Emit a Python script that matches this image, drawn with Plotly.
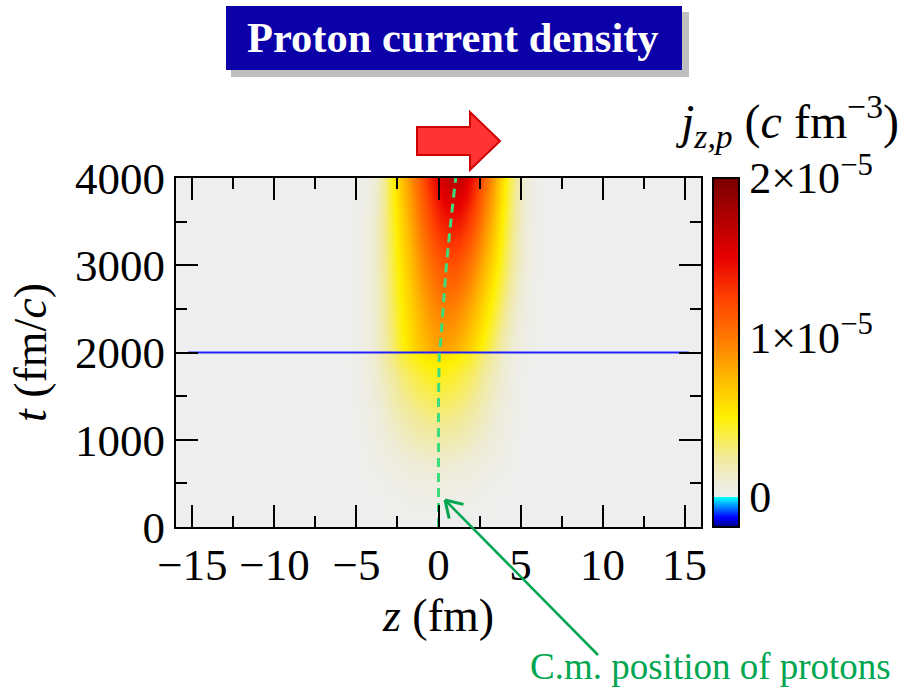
import numpy as np
import plotly.graph_objects as go

# ---------------- data ----------------
# z positions of the grid columns (fm)
z_fm = [-5.25, -4.75, -4.25, -3.75, -3.25, -2.75, -2.25, -1.75, -1.25, -0.75, -0.25,
        0.25, 0.75, 1.25, 1.75, 2.25, 2.75, 3.25, 3.75, 4.25, 4.75, 5.25, 5.75, 6.25, 6.75]
# times of the grid rows (fm/c)
t_fmc = [0, 250, 500, 750, 1000, 1250, 1500, 1750, 1995, 2005, 2500, 3000, 3500, 4000]
# proton current density j_{z,p} in units of 1e-5 c fm^-3 (one list per time row)
j_t0000 = [0] * 25
j_t0250 = [0, 0, 0, 0, 0.01, 0.01, 0.01, 0.02, 0.02, 0.02, 0.02, 0.02, 0.02, 0.02, 0.02, 0.01, 0.01, 0.01, 0, 0, 0, 0, 0, 0, 0]
j_t0500 = [0, 0, 0.01, 0.01, 0.02, 0.03, 0.04, 0.05, 0.05, 0.06, 0.06, 0.06, 0.06, 0.05, 0.05, 0.04, 0.03, 0.02, 0.01, 0.01, 0, 0, 0, 0, 0]
j_t0750 = [0, 0.01, 0.02, 0.03, 0.05, 0.06, 0.08, 0.09, 0.10, 0.11, 0.12, 0.12, 0.11, 0.10, 0.09, 0.08, 0.06, 0.05, 0.03, 0.02, 0.01, 0, 0, 0, 0]
j_t1000 = [0, 0.01, 0.03, 0.05, 0.08, 0.11, 0.13, 0.16, 0.18, 0.19, 0.20, 0.20, 0.19, 0.18, 0.16, 0.13, 0.11, 0.08, 0.05, 0.03, 0.01, 0, 0, 0, 0]
j_t1250 = [0.01, 0.02, 0.04, 0.07, 0.11, 0.15, 0.19, 0.22, 0.25, 0.27, 0.28, 0.28, 0.27, 0.25, 0.22, 0.19, 0.15, 0.11, 0.07, 0.04, 0.02, 0.01, 0, 0, 0]
j_t1500 = [0.01, 0.03, 0.06, 0.10, 0.14, 0.20, 0.25, 0.29, 0.33, 0.35, 0.37, 0.37, 0.35, 0.33, 0.29, 0.25, 0.20, 0.14, 0.10, 0.06, 0.03, 0.01, 0, 0, 0]
j_t1750 = [0.01, 0.03, 0.07, 0.12, 0.18, 0.24, 0.31, 0.36, 0.40, 0.44, 0.46, 0.46, 0.44, 0.40, 0.36, 0.31, 0.24, 0.18, 0.12, 0.07, 0.03, 0.01, 0, 0, 0]
j_t1995 = [0.02, 0.04, 0.09, 0.15, 0.23, 0.31, 0.39, 0.46, 0.51, 0.55, 0.57, 0.57, 0.55, 0.51, 0.46, 0.39, 0.31, 0.23, 0.15, 0.09, 0.04, 0.02, 0.01, 0, 0]
j_t2005 = [0.01, 0.03, 0.07, 0.13, 0.21, 0.32, 0.45, 0.56, 0.66, 0.74, 0.80, 0.82, 0.80, 0.74, 0.66, 0.56, 0.45, 0.32, 0.21, 0.13, 0.07, 0.03, 0.01, 0, 0]
j_t2500 = [0.01, 0.03, 0.07, 0.14, 0.24, 0.36, 0.50, 0.63, 0.75, 0.85, 0.93, 0.97, 0.97, 0.92, 0.84, 0.73, 0.60, 0.46, 0.33, 0.21, 0.12, 0.06, 0.02, 0.01, 0]
j_t3000 = [0.01, 0.03, 0.07, 0.15, 0.26, 0.40, 0.56, 0.71, 0.86, 0.98, 1.08, 1.15, 1.18, 1.14, 1.05, 0.93, 0.78, 0.62, 0.45, 0.30, 0.18, 0.09, 0.03, 0.01, 0]
j_t3500 = [0.01, 0.03, 0.07, 0.15, 0.28, 0.44, 0.62, 0.80, 0.97, 1.13, 1.27, 1.37, 1.42, 1.40, 1.30, 1.15, 0.96, 0.76, 0.55, 0.36, 0.21, 0.10, 0.04, 0.01, 0]
j_t4000 = [0.01, 0.02, 0.05, 0.13, 0.28, 0.50, 0.70, 0.90, 1.08, 1.27, 1.45, 1.60, 1.70, 1.68, 1.55, 1.36, 1.13, 0.90, 0.65, 0.42, 0.24, 0.11, 0.04, 0.01, 0]

# centre-of-mass position of protons
cm_t = [0, 500, 1000, 1500, 2000, 2100, 2500, 3000, 3500, 4000]
cm_z = [0.0, 0.0, 0.0, 0.0, 0.05, 0.12, 0.28, 0.48, 0.75, 1.05]

# horizontal marker line
mark_z = [-15.25, 15.25]
mark_t = [2000, 2000]

# colour-bar ticks (labelled) and dash marks
cb_vals = [0, 1e-5, 2e-5]
cb_text = ["0", "1×10<sup>−5</sup>", "2×10<sup>−5</sup>"]
cb_marks = [0, 0.5e-5, 1e-5, 1.5e-5]

# ---------------- figure ----------------
FONT = "Liberation Serif, Times New Roman, serif"
L, R, T, B = 176, 701, 178, 527
W, H = R - L, B - T


def px(x):
    return (x - L) / W


def py(y):
    return (B - y) / H


j_rows = [j_t0000, j_t0250, j_t0500, j_t0750, j_t1000, j_t1250, j_t1500, j_t1750,
          j_t1995, j_t2005, j_t2500, j_t3000, j_t3500, j_t4000]
zmat = np.array(j_rows) * 1e-5

zmin, zmax = -1.9e-6, 2e-5


def nrm(v):
    return (v * 1e-5 - zmin) / (zmax - zmin)


cscale = [
    [0.0, "#00008b"],
    [nrm(-0.13), "#0000ff"],
    [nrm(-0.005), "#00ffff"],
    [nrm(-0.001), "#00ffff"],
    [nrm(0.0), "#eeeeee"],
    [nrm(0.1), "#eeecd6"],
    [nrm(0.25), "#f2ea98"],
    [nrm(0.5), "#fff000"],
    [nrm(0.75), "#ffb800"],
    [nrm(1.0), "#ff7800"],
    [nrm(1.25), "#ff4000"],
    [nrm(1.5), "#e80000"],
    [nrm(1.75), "#b00000"],
    [1.0, "#7a0000"],
]

CB_X0 = 713
CB_TH = 26

fig = go.Figure()
fig.add_trace(go.Heatmap(
    x=z_fm, y=t_fmc, z=zmat, zsmooth="best", colorscale=cscale,
    zmin=zmin, zmax=zmax, hoverinfo="skip",
    colorbar=dict(
        x=px(CB_X0), xanchor="left", xpad=0, y=0.5, yanchor="middle", ypad=0,
        len=1, lenmode="fraction", thickness=CB_TH,
        outlinecolor="black", outlinewidth=2,
        tickmode="array", tickvals=cb_vals, ticktext=cb_text,
        ticks="",
        tickfont=dict(family=FONT, size=44, color="black"),
    ),
))
fig.add_trace(go.Scatter(x=mark_z, y=mark_t, mode="lines",
                         line=dict(color="#2020ff", width=2), hoverinfo="skip"))
fig.add_trace(go.Scatter(x=cm_z, y=cm_t, mode="lines",
                         line=dict(color="#3ddc7c", width=3, dash="9px,6px"), hoverinfo="skip"))

axis_common = dict(
    ticks="inside", ticklen=22, tickwidth=2, tickcolor="black",
    showline=True, linecolor="black", linewidth=2, mirror="ticks",
    showgrid=False, zeroline=False,
    tickfont=dict(family=FONT, size=45, color="black"),
)

fig.update_layout(
    width=914, height=692,
    margin=dict(l=L, r=914 - R, t=T, b=692 - B, autoexpand=False),
    paper_bgcolor="white", plot_bgcolor="#eeeeee",
    showlegend=False,
    font=dict(family=FONT, color="black"),
    xaxis=dict(range=[-16, 16], tick0=0, dtick=5, ticklabelstandoff=-3,
               minor=dict(dtick=2.5, ticks="inside", ticklen=11, tickwidth=2, tickcolor="black"),
               title=dict(text="<i>z</i> (fm)", font=dict(family=FONT, size=46), standoff=2),
               **axis_common),
    yaxis=dict(range=[0, 4000], tick0=0, dtick=1000, tickformat="d",
               minor=dict(dtick=500, ticks="inside", ticklen=11, tickwidth=2, tickcolor="black"),
               title=dict(text="<i>t</i> (fm/<i>c</i>)", font=dict(family=FONT, size=46), standoff=14),
               **axis_common),
)

# colour-bar dash marks on both edges of the bar
for v in cb_marks:
    yy = (v - zmin) / (zmax - zmin)
    for a, b in [(CB_X0, CB_X0 + 8), (CB_X0 + CB_TH - 8, CB_X0 + CB_TH)]:
        fig.add_shape(type="line", xref="paper", yref="paper",
                      x0=px(a), x1=px(b), y0=yy, y1=yy,
                      line=dict(color="black", width=2), layer="above")

# title box with shadow
fig.add_shape(type="rect", xref="paper", yref="paper",
              x0=px(231), x1=px(689), y0=py(77), y1=py(12),
              fillcolor="#8a8a8a", opacity=0.55, line=dict(width=0), layer="above")
fig.add_shape(type="rect", xref="paper", yref="paper",
              x0=px(226), x1=px(682), y0=py(70), y1=py(6),
              fillcolor="#0c00a8", line=dict(width=0), layer="above")
fig.add_annotation(xref="paper", yref="paper", x=px(453), y=py(38),
                   text="<b>Proton current density</b>", showarrow=False,
                   font=dict(family=FONT, size=42.5, color="white"),
                   xanchor="center", yanchor="middle")

# red block arrow
pts = [(417, 127), (470, 127), (470, 112), (500, 141), (470, 170), (470, 155), (417, 155)]
path = "M " + " L ".join(f"{px(a):.5f},{py(b):.5f}" for a, b in pts) + " Z"
fig.add_shape(type="path", xref="paper", yref="paper", path=path,
              fillcolor="#ff3333", line=dict(color="#cc0000", width=2), layer="above")

# colour-bar title
fig.add_annotation(xref="paper", yref="paper", x=px(787), y=py(121),
                   text="<i>j</i><sub><i>z,p</i></sub> (<i>c</i> fm<sup>−3</sup>)",
                   showarrow=False, font=dict(family=FONT, size=48, color="black"),
                   xanchor="center", yanchor="middle")

# C.m. annotation arrow (line + open head) and label
tip = np.array([445.0, 500.0])
tail = np.array([598.0, 655.0])
GREEN = "#00a550"
fig.add_shape(type="line", xref="paper", yref="paper",
              x0=px(tail[0]), y0=py(tail[1]), x1=px(tip[0]), y1=py(tip[1]),
              line=dict(color=GREEN, width=2.5), layer="above")
u = (tail - tip) / np.linalg.norm(tail - tip)
for ang in (np.radians(32), -np.radians(32)):
    rot = np.array([[np.cos(ang), -np.sin(ang)], [np.sin(ang), np.cos(ang)]])
    arm = tip + 19 * rot.dot(u)
    fig.add_shape(type="line", xref="paper", yref="paper",
                  x0=px(tip[0]), y0=py(tip[1]), x1=px(arm[0]), y1=py(arm[1]),
                  line=dict(color=GREEN, width=3), layer="above")
fig.add_annotation(xref="paper", yref="paper", x=px(710), y=py(666),
                   text="C.m. position of protons", showarrow=False,
                   font=dict(family=FONT, size=37, color="#00a650"),
                   xanchor="center", yanchor="middle")

fig.write_html("out.html")
